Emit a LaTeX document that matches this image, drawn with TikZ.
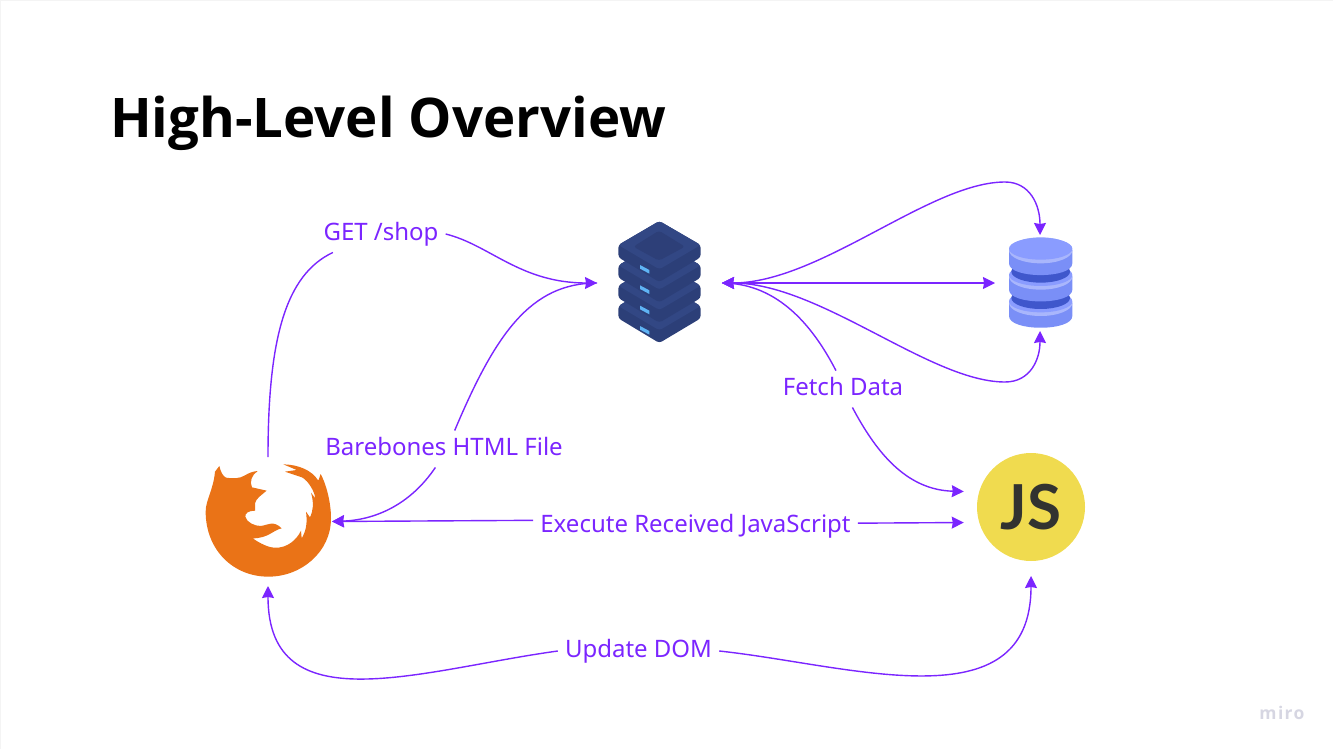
\documentclass[tikz,border=0pt]{standalone}
\usepackage{fontspec}
\setmainfont{Noto Sans}
\newfontface\headfont{Open Sans Bold}
\newfontface\badgefont{Lato Bold}
\usetikzlibrary{arrows.meta}
\definecolor{flowpurple}{HTML}{7B25FF}
\definecolor{foxorange}{HTML}{EA7317}
\definecolor{rackdark}{HTML}{2C3F78}
\definecolor{racktop}{HTML}{324784}
\definecolor{rackinner}{HTML}{2D3F78}
\definecolor{rackled}{HTML}{5FB4F5}
\definecolor{dbtop}{HTML}{8A9CFF}
\definecolor{dbside}{HTML}{7A8FF7}
\definecolor{dbstripe}{HTML}{A9B6FC}
\definecolor{dbdark}{HTML}{3F57CC}
\definecolor{jsyellow}{HTML}{F0DB4F}
\definecolor{jsdark}{HTML}{323330}
\definecolor{mirogrey}{HTML}{D6D6E2}
\definecolor{framegrey}{HTML}{F4F4F4}
\newcommand{\dbdisk}[1]{%
	\fill[dbside] (87,240+#1) -- (87,280+#1) .. controls (87,327+#1) and (277,327+#1) .. (277,280+#1) -- (277,240+#1) -- cycle;
	\fill[dbstripe] (182,241+#1) ellipse (95 and 39);
	\fill[dbtop] (182,236+#1) ellipse (95 and 33);
}
\tikzset{
	flow/.style={draw=flowpurple, line width=1.4pt},
	flowtip/.style={flow, -{Stealth[length=12pt,width=12pt,inset=1pt]}},
	flowback/.style={flow, {Stealth[length=12pt,width=12pt,inset=1pt]}-},
	flowboth/.style={flow, {Stealth[length=12pt,width=12pt,inset=1pt]}-{Stealth[length=12pt,width=12pt,inset=1pt]}},
	flowlabel/.style={text=flowpurple, font=\fontsize{24}{28}\selectfont, inner sep=7pt, text height=17.5pt, text depth=5pt},
	icon/.style={inner sep=0pt, outer sep=0pt}
}
\begin{document}
\begin{tikzpicture}[x=1pt, y=-1pt]
	\useasboundingbox (0,0) rectangle (1333,749);
	\draw[framegrey, line width=2pt] (0,749) -- (0,0) -- (1333,0);
	\node[icon, anchor=base west, font=\fontsize{54.6}{60}\headfont] (title) at (110,138) {High-Level Overview};
	\node[icon, minimum width=128pt, minimum height=129pt] (firefox) at (268,521.5) {};
	\node[icon, minimum width=125pt, minimum height=124pt] (server) at (659.5,283) {};
	\node[icon, minimum width=90pt, minimum height=96pt] (database) at (1040,283) {};
	\node[circle, fill=jsyellow, inner sep=0pt, minimum size=108pt, outer sep=15pt, text=jsdark, font=\fontsize{62}{62}\badgefont] (javascript) at (1031,507) {JS};
	% firefox
	\begin{scope}[shift={(190,440)}, scale=1/3]
		\fill[foxorange] (280,73) .. controls (325,74) and (365,90) .. (385,122) -- (392,102) .. controls (405,125) and (423,180) .. (423,235)
			.. controls (423,335) and (335,410) .. (235,410) .. controls (130,410) and (47,330) .. (47,215)
			.. controls (47,180) and (70,150) .. (75,95) -- (88,78) .. controls (92,95) and (98,108) .. (108,113)
			.. controls (128,116) and (150,116) .. (165,106) .. controls (178,98) and (190,94) .. (203,93)
			.. controls (185,105) and (178,125) .. (186,142) -- (230,152) .. controls (215,165) and (198,175) .. (195,190)
			-- (195,212) .. controls (175,212) and (165,220) .. (166,230) .. controls (170,248) and (195,258) .. (212,258)
			.. controls (235,255) and (250,240) .. (275,265) .. controls (250,270) and (235,295) .. (188,295)
			.. controls (210,310) and (235,323) .. (255,323) .. controls (290,325) and (320,300) .. (333,272)
			-- (335,295) .. controls (350,270) and (352,245) .. (348,215) -- (360,232) .. controls (370,210) and (372,190) .. (363,158)
			-- (376,175) .. controls (372,145) and (345,112) .. (330,110) -- (285,95) -- (320,90) -- cycle;
	\end{scope}
	% server
	\begin{scope}[shift={(590,200)}, scale=1/3]
		\foreach \lay in {183,122,61,0} {
			\begin{scope}[yshift=-\lay*1pt]
				\fill[rackdark, rounded corners=3pt] (85,135) -- (85,172) -- (208,246) -- (332,172) -- (332,135) -- (208,63) -- cycle;
				\fill[racktop, rounded corners=3pt] (85,135) -- (208,63) -- (332,135) -- (208,208) -- cycle;
				\fill[rackled] (150,195) -- (178,210) -- (178,221) -- (150,206) -- cycle;
			\end{scope}
		}
		\fill[rackinner, rounded corners=3pt] (207,92) -- (285,140) -- (207,182) -- (130,140) -- cycle;
	\end{scope}
	% database
	\begin{scope}[shift={(980,170)}, scale=1/3]
		\dbdisk{158}
		\fill[dbdark] (182,384) ellipse (88 and 33);
		\dbdisk{79}
		\fill[dbdark] (182,305) ellipse (88 and 33);
		\dbdisk{0}
	\end{scope}
	% labels
	\node[flowlabel] (getshop) at (381,234) {GET /shop};
	\node[flowlabel] (barebones) at (444,449) {Barebones HTML File};
	\node[flowlabel] (fetchdata) at (843,389) {Fetch Data};
	\node[flowlabel] (execute) at (695.5,526) {Execute Received JavaScript};
	\node[flowlabel] (updatedom) at (638.5,651) {Update DOM};
	\node[text=mirogrey, font=\fontsize{17.5}{20}\headfont\addfontfeatures{LetterSpace=8}] (miro) at (1282,713) {miro};
	% connectors
	\draw[flow] (firefox.north) .. controls (268,340) and (285,275) .. (getshop.201);
	\draw[flowtip] (getshop.east) .. controls (490,245) and (520,283) .. (server.west);
	\draw[flow] (server.west) .. controls (530,283) and (495,335) .. (barebones.60);
	\draw[flowtip] (barebones.245) .. controls (410,505) and (375,520) .. (firefox.east);
	\draw[flowback] (firefox.east) -- (execute.178);
	\draw[flowtip] (execute.1) -- (javascript.193);
	\draw[flowback] (firefox.south) .. controls (268,725) and (420,670) .. (updatedom.west);
	\draw[flowtip] (updatedom.east) .. controls (850,665) and (1031,725) .. (javascript.south);
	\draw[flowboth] (server.east) -- (database.west);
	\draw[flowboth] (server.east) .. controls (820,283) and (930,182) .. (1005,182) .. controls (1030,182) and (1040,205) .. (database.north);
	\draw[flowboth] (server.east) .. controls (820,283) and (930,382) .. (1005,382) .. controls (1030,382) and (1040,360) .. (database.south);
	\draw[flow] (server.east) .. controls (780,283) and (815,330) .. (fetchdata.111);
	\draw[flowtip] (fetchdata.297) .. controls (875,450) and (905,490) .. (javascript.167);
\end{tikzpicture}
\end{document}
